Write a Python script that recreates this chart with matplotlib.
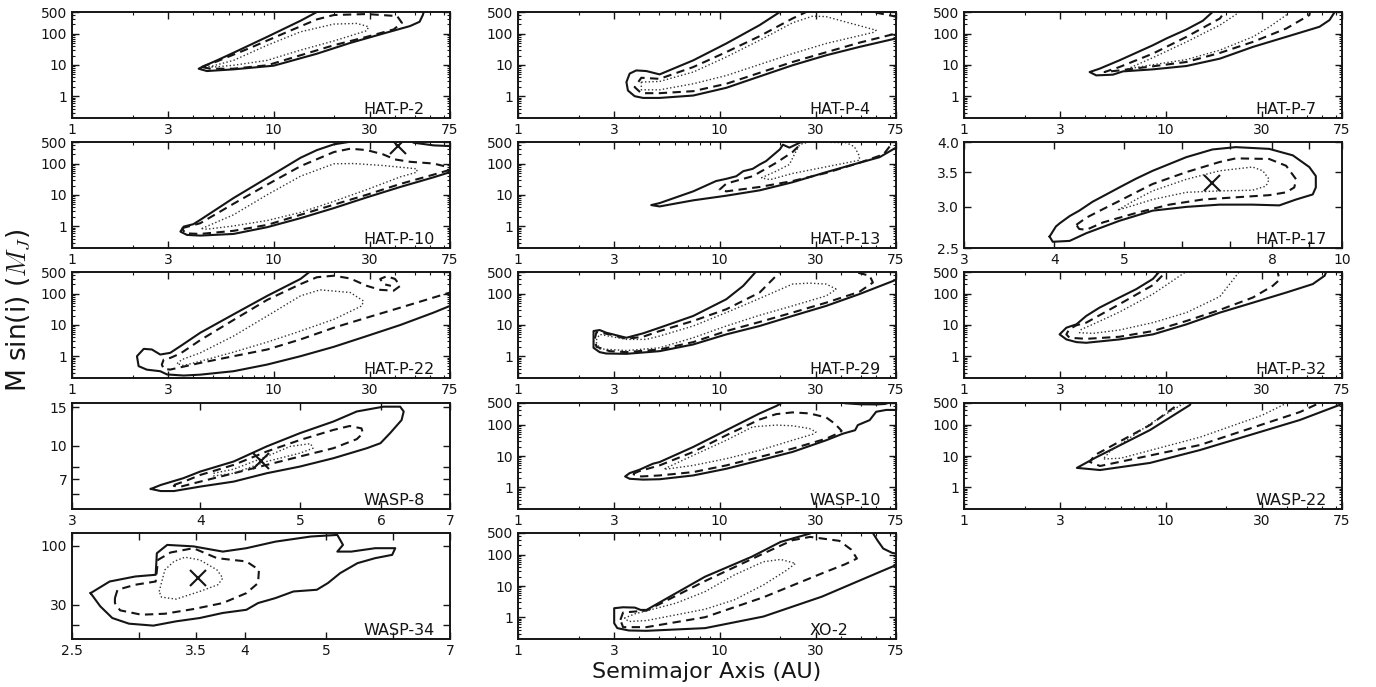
import matplotlib
matplotlib.use('Agg')
import matplotlib.pyplot as plt
from matplotlib.ticker import FixedLocator, FixedFormatter, NullFormatter

plt.rcParams['font.family'] = ['DejaVu Sans']
plt.rcParams['mathtext.fontset'] = 'cm'

# ---------------- data: contour outlines (semimajor axis AU, M sin i MJ) ----------------
HATP2_solid = [(18.4,650),(16.4,500),(13.6,262),(9.3,80),(6.3,24.4),(5.24,14.1),(4.5,9.2),(4.25,7.6),
               (4.67,6.4),(6.33,7.25),(10,9.5),(11.2,11.6),(16.4,23),(24,51),(35,102),(47.5,177),
               (53,243),(55,400),(56,600)]
HATP2_dashed = [(4.4,8.6),(5.24,13.1),(7.66,35.5),(11.2,102),(16.4,290),(19.9,400),(29,430),(41,370),
                (43.3,225),(39.4,138),(29,80),(19.9,43),(13.6,20.5),(9.3,9.8),(6.3,7.6),(4.85,7.6),(4.4,8.6)]
HATP2_dotted = [(4.76,8.6),(6.33,14.1),(9.3,43),(13.6,116),(19.9,205),(25.9,215),(29.6,168),(29,126),
                (19.9,59),(13.6,30),(9.3,14.1),(6.33,9.8),(5.05,8.6),(4.76,8.6)]

HATP4_solid = [(22.2,740),(19.9,500),(15.8,190),(10.8,49),(7.4,14.1),(5.04,5.0),(4.33,6.4),(3.86,6.7),
               (3.58,5.3),(3.45,2.83),(3.51,1.52),(3.79,1.0),(4.17,0.88),(5.04,0.88),(7.4,1.05),
               (10.8,1.86),(15.8,4.3),(23,9.8),(33.8,20.5),(49.4,38),(75,71),(105,130)]
HATP4_dashed = [(31.4,950),(26.9,500),(23,310),(15.8,84),(10.8,26),(7.4,8.6),(5.04,3.6),(4.09,3.9),
                (3.79,1.95),(4.09,1.25),(5.04,1.25),(7.4,1.45),(10.8,2.5),(23,12.5),(49.4,52),(75,102),(98,170)]
HATP4_dashed2 = [(52,800),(57.6,500),(75,355),(100,320)]
HATP4_dotted = [(4.09,2.83),(5.04,2.97),(7.4,5.95),(10.8,18.1),(15.8,62),(23,225),(29,370),(33.8,355),
                (59.8,130),(57.6,110),(33.8,49),(23,23.2),(10.8,4.6),(7.4,2.5),(5.04,1.6),(4.09,1.6),(4.09,2.83)]

HATP7_solid = [(16.5,840),(17.1,500),(15.3,262),(12.7,138),(10.1,71),(8.65,43),(5.9,14.1),(4.7,7.6),
               (4.2,5.95),(4.53,4.65),(5.48,4.9),(6.15,6.25),(8.65,7.25),(12.7,9.3),(18.6,16),(27.1,38),
               (39.7,80),(58,168),(65,275),(69,500),(73,840)]
HATP7_dashed = [(21,840),(19.6,500),(18.6,310),(12.7,80),(8.65,23.2),(5.9,8.6),(4.98,5.95),(5.9,6.7),
                (8.65,9.1),(12.7,12.5),(18.6,24.4),(27.1,55),(39.7,148),(51.7,400),(52.7,840)]
HATP7_dotted = [(24,840),(23.3,500),(18.6,190),(12.7,55),(8.65,17.2),(6.5,7.6),(6.9,8.0),(8.65,10.2),
                (12.7,14.9),(18.6,30),(27.1,80),(32.8,168),(39.7,400),(40,840)]

HATP10_solid = [(25,780),(24,510),(19.9,420),(16.4,275),(13.6,156),(9.3,35.5),(6.33,8),(4.33,1.6),
                (4.0,1.16),(3.58,0.97),(3.45,0.67),(3.72,0.525),(4.33,0.5),(6.33,0.565),(9.3,0.93),
                (13.6,1.81),(19.9,3.8),(29,8.4),(42.5,18.1),(62.2,37),(75,54),(90.8,74)]
HATP10_solid2 = [(47.5,780),(49.4,475),(62.2,390),(75,370),(90.8,355)]
HATP10_dashed = [(3.51,0.86),(4.33,1.25),(6.33,5.25),(9.3,21.5),(13.6,84),(19.9,238),(24,305),(29,275),
                 (35,200),(40,138),(47.5,116),(62.2,102),(72.5,80),(73.7,62),(62.2,45),(42.5,22.6),
                 (29,10.2),(19.9,4.9),(13.6,2.32),(9.3,1.1),(6.33,0.71),(4.33,0.565),(3.65,0.59),(3.51,0.86)]
HATP10_dotted = [(4.4,0.84),(6.33,2.32),(9.3,10.2),(13.6,40),(19.9,100),(25,102),(35,88),(51.4,69),
                 (51.4,54),(42.5,38),(29,14.9),(19.9,6.25),(13.6,2.76),(9.3,1.52),(6.33,1.02),(4.67,0.8),(4.4,0.84)]
HATP10_best = (41.4, 370)

HATP13_solid = [(25.4,780),(25.4,500),(22.2,330),(20.6,410),(19.9,290),(17,122),(15.8,95),(14.6,69),
                (13.1,58),(12.1,40),(10.8,33),(9.6,28),(7.4,13.1),(5.04,5.5),(4.58,4.75),(5.04,4.3),
                (7.4,6.75),(10.8,9.5),(15.8,14.1),(23,25.6),(33.8,54),(49.4,108),(62.2,163),(75,330),(90,600)]
HATP13_dashed = [(27,780),(25.9,500),(23,238),(19.1,108),(14.6,40),(13.1,33),(10.8,23.2),(10,14.9),
                 (10.8,13.1),(15.8,18.1),(23,28),(33.8,51),(49.4,108),(65,200),(70,370),(70,780)]
HATP13_dotted = [(16.1,35.5),(19.1,58),(22.2,95),(23.5,200),(25,420),(27.9,500),(42.5,475),(46.6,355),
                 (49.4,177),(49.4,130),(33.8,80),(23,49),(17.8,31),(16.1,35.5)]

HATP17_solid = [(3.94,2.63),(4.02,2.75),(4.07,2.79),(4.2,2.88),(4.33,2.95),(4.52,3.07),(4.72,3.17),
                (4.92,3.27),(5.19,3.40),(5.47,3.52),(6.09,3.74),(6.62,3.87),(7.13,3.91),(7.93,3.88),
                (8.55,3.77),(9.01,3.58),(9.2,3.44),(9.2,3.27),(9.11,3.17),(8.64,3.10),(8.19,3.02),
                (7.52,3.03),(6.77,3.03),(6.09,3.0),(5.47,2.95),(4.92,2.82),(4.43,2.67),(4.2,2.58),
                (3.98,2.57),(3.94,2.63)]
HATP17_dashed = [(4.29,2.77),(4.43,2.86),(4.67,2.97),(4.92,3.08),(5.19,3.20),(5.47,3.32),(6.09,3.50),
                 (6.77,3.66),(7.13,3.72),(7.93,3.71),(8.37,3.60),(8.64,3.39),(8.59,3.27),(8.37,3.20),
                 (7.93,3.16),(7.13,3.13),(6.42,3.10),(5.77,3.03),(5.19,2.92),(4.67,2.80),(4.43,2.71),
                 (4.33,2.72),(4.29,2.77)]
HATP17_dotted = [(4.90,2.96),(5.19,3.10),(5.47,3.22),(6.09,3.39),(6.77,3.52),(7.52,3.58),(7.77,3.52),
                 (7.93,3.39),(7.85,3.29),(7.52,3.23),(6.77,3.22),(6.09,3.20),(5.47,3.10),(5.03,2.99),(4.90,2.96)]
HATP17_best = (6.6, 3.33)

HATP22_solid = [(16,800),(15.2,525),(13.6,300),(9.3,86),(6.33,22),(4.33,5.66),(3.45,2.1),(3.07,1.28),
                (2.74,1.13),(2.49,1.64),(2.27,1.72),(2.1,1.0),(2.14,0.48),(2.35,0.37),(2.74,0.33),
                (2.96,0.26),(3.58,0.24),(4.33,0.256),(6.33,0.33),(9.3,0.54),(13.6,1.0),(19.9,2.0),
                (29,4.42),(42.5,10),(62.2,25),(75,41),(95,70)]
HATP22_dashed = [(78,116),(75,110),(62.2,76),(42.5,36),(29,17.2),(19.9,8.2),(13.6,3.45),(9.3,1.64),
                 (6.33,1.0),(4.33,0.61),(3.07,0.372),(2.85,0.39),(2.79,0.54),(2.85,0.78),(3.07,0.88),
                 (3.45,1.22),(4.33,3.28),(6.33,14.5),(9.3,64),(13.6,205),(16.4,340),(19.9,380),(24,310),
                 (29,180),(33.8,134),(39.4,126),(42.5,180),(40,300),(36.4,365),(33.8,300),(35,205),(38.2,180)]
HATP22_dotted = [(3.32,0.58),(3.51,0.78),(4.33,1.28),(6.33,4.42),(9.3,19.5),(13.6,86),(17,134),(24,110),
                 (27.9,59),(27.4,41),(19.9,15.2),(13.6,6.4),(9.3,2.83),(6.33,1.35),(4.33,0.69),(3.58,0.5),(3.32,0.58)]

HATP29_solid = [(16,700),(15.2,525),(13.1,180),(10.8,67),(7.4,19.5),(5.04,8.2),(4.17,5.4),(3.45,3.9),
                (3.19,4.42),(2.96,5.0),(2.74,5.66),(2.54,6.9),(2.37,6.4),(2.37,1.86),(2.54,1.35),
                (2.74,1.22),(3.45,1.19),(5.04,1.45),(7.4,2.38),(10.8,5.0),(15.8,9.3),(23,19.5),
                (33.8,41),(49.4,98),(75,280),(85,400)]
HATP29_dashed = [(21,700),(19.9,525),(19.1,380),(15.8,110),(10.8,32),(7.4,13.5),(5.04,6.4),(4.17,4.2),
                 (3.45,3.6),(2.85,5.0),(2.45,5.95),(2.4,3.45),(2.45,2.0),(2.85,1.45),(3.45,1.35),
                 (5.04,1.64),(7.4,2.83),(10.8,6.4),(15.8,12.5),(23,25),(33.8,52),(49.4,116),(57.6,230),
                 (55.5,380),(46.6,510),(44,700)]
HATP29_dotted = [(37.9,141),(33.8,205),(27.9,220),(23,205),(15.8,71),(10.8,25),(7.4,9.3),(5.04,4.42),
                 (4.33,3.45),(3.45,3.45),(2.54,5.0),(2.43,3.05),(2.54,1.72),(3.45,1.52),(5.04,1.86),
                 (7.4,3.9),(10.8,9.3),(15.8,20.5),(23,41),(33.8,86),(37.9,141)]

HATP32_solid = [(9.8,700),(9.34,525),(8.65,300),(7.15,141),(5.9,76),(4.7,36),(4.04,19.5),(3.61,10.5),
                (3.22,8.2),(2.98,5.0),(3.22,3.45),(3.61,2.83),(4.04,2.69),(5.9,3.45),(8.65,5.0),
                (12.7,10.5),(18.6,25),(27.1,52),(39.7,110),(53.7,205),(61.5,380),(62.8,525),(63,700)]
HATP32_dashed = [(10.9,700),(10.1,525),(8.65,190),(5.9,46.4),(4.04,11.9),(3.61,9.8),(3.32,7.25),
                 (3.22,5.0),(3.34,3.9),(4.04,3.6),(5.9,4.2),(8.65,6.4),(12.7,13.5),(18.6,30.6),(27.1,76),
                 (34,180),(36.7,280),(36,490),(35.5,700)]
HATP32_dotted = [(13.2,700),(12.7,525),(8.65,98),(5.9,26),(4.36,10.5),(3.82,7.25),(3.74,5.66),(4.36,5.4),
                 (5.9,6.9),(8.65,11.9),(12.7,25),(18.6,82),(23.3,525),(23.7,700)]

WASP8_solid = [(3.58,6.31),(3.66,6.58),(3.85,7.07),(4.0,7.59),(4.31,8.44),(4.64,9.9),(5.0,11.4),
               (5.39,12.9),(5.68,14.35),(6.03,15.1),(6.26,15.1),(6.31,14.35),(6.28,13.1),(6.12,11.4),
               (5.99,10.25),(5.81,9.72),(5.39,8.74),(5.0,8.0),(4.64,7.45),(4.31,6.82),(4.0,6.47),
               (3.77,6.17),(3.66,6.17),(3.58,6.31)]
WASP8_dashed = [(3.77,6.58),(3.88,6.9),(4.0,7.32),(4.31,8.14),(4.64,9.38),(5.0,10.6),(5.39,11.8),
                (5.59,12.3),(5.74,12.0),(5.76,11.4),(5.68,10.7),(5.39,9.72),(5.0,8.9),(4.64,8.14),
                (4.31,7.45),(4.0,6.82),(3.83,6.47),(3.77,6.51),(3.77,6.58)]
WASP8_dotted = [(4.12,7.45),(4.31,7.78),(4.64,8.9),(4.89,9.9),(5.12,10.2),(5.15,9.72),(5.0,9.22),
                (4.64,8.44),(4.31,7.45),(4.12,7.24),(4.12,7.45)]
WASP8_best = (4.58, 8.45)

WASP10_solid = [(21.5,700),(20.6,525),(19.1,400),(15.8,232),(10.8,67),(7.4,19.5),(5.04,6.4),(4.67,5.66),
                (4.0,3.62),(3.58,2.83),(3.4,2.21),(3.58,1.86),(4.17,1.75),(5.04,1.8),(7.4,2.38),
                (10.8,3.9),(15.8,7.25),(23,13.5),(33.8,32),(40.9,52),(47,67),(48.5,98),(55.5,141),
                (59.8,262),(67.1,300),(75,300),(85,300)]
WASP10_solid2 = [(39,560),(42,490),(50,455),(60,450),(66,465),(70,520)]
WASP10_dashed = [(3.72,2.69),(4.0,3.28),(5.04,5.0),(7.4,13.5),(10.8,46.4),(15.8,148),(19.1,220),(23,250),
                 (27.9,232),(33.8,172),(37.2,110),(40.3,64),(39.6,57),(33.8,36),(23,17.2),(15.8,9.3),
                 (10.8,5.0),(7.4,3.05),(5.04,2.38),(4.09,2.21),(3.79,2.5),(3.72,2.69)]
WASP10_dotted = [(5.33,3.9),(7.4,10.5),(10.8,32),(14.6,86),(19.1,98),(23,93),(27.9,76),(30.1,59),
                 (29,50),(23,32),(15.8,15.2),(10.8,8.2),(7.4,5.0),(5.44,3.8),(5.33,3.9)]

WASP22_solid = [(13.8,800),(13.2,432),(8.37,68),(4.47,8.7),(3.63,4.16),(4.73,3.55),(8.37,6.0),
                (14.8,15.5),(26.2,47),(46.4,143),(75,464),(90,800)]
WASP22_dashed = [(12.2,800),(11.8,500),(8.37,98.6),(4.47,10.8),(4.2,6.5),(4.73,4.78),(14.8,22.5),
                 (46.4,257),(58,500),(62,800)]
WASP22_dotted = [(12.8,800),(12.4,500),(8.6,120),(5.3,14),(4.9,8),(6.0,8.5),(14.8,40),(30,200),(40,500),(42,800)]

WASP34_solid = [(2.63,38.2),(2.77,48.4),(2.97,53.6),(3.14,55.5),(3.15,86.1),(3.24,102),(3.48,99),
                (3.77,89),(4.02,95.4),(4.35,109),(4.79,121),(5.15,125),(5.23,102),(5.15,89),(5.35,89),
                (5.71,95.4),(6.03,95.4),(5.98,83.3),(5.71,77.9),(5.44,70.3),(5.19,57.4),(5.02,46.9),
                (4.87,40.9),(4.57,39.5),(4.35,34.5),(4.15,31.2),(4.02,27.2),(3.77,25.5),(3.54,23),
                (3.32,21.5),(3.12,19.7),(2.92,20.5),(2.79,23),(2.70,29.2),(2.63,38.2)]
WASP34_dashed = [(2.81,34.5),(2.83,40.9),(2.97,45.3),(3.14,48.4),(3.16,75.2),(3.27,87.4),(3.48,95.4),
                 (3.71,77.9),(4.02,72.8),(4.16,61.4),(4.15,46.9),(4.02,38.2),(3.77,31.2),(3.48,27.6),
                 (3.22,25.1),(3.02,24.6),(2.85,26.9),(2.81,31.2),(2.81,34.5)]
WASP34_dotted = [(3.17,39.5),(3.22,61.4),(3.30,72.8),(3.40,79.4),(3.54,75.2),(3.71,61.4),(3.77,51.9),
                 (3.72,45.3),(3.54,39.5),(3.32,33.8),(3.19,35.2),(3.17,39.5)]
WASP34_best = (3.52, 52)

XO2_solid = [(30,650),(28.1,480),(20.1,260),(14.4,86),(8.47,19.9),(5.3,3.57),(4.34,1.71),(4.06,1.71),
             (3.8,2.03),(3.32,2.08),(3.0,1.94),(3.0,0.64),(3.11,0.446),(3.55,0.375),(4.34,0.366),
             (8.47,0.446),(16.5,1.05),(32.2,4.57),(62.7,28.7),(75,46.8),(90,75)]
XO2_solid2 = [(56,650),(57.8,480),(60.6,294),(64.8,159),(71.6,116),(75,110),(81,105)]
XO2_dashed = [(3.22,0.82),(3.32,1.41),(4.34,1.63),(6.06,4.8),(8.47,14.4),(16.5,110),(23,294),(28.1,375),
              (39.3,280),(44.9,148),(48,76),(42,50),(32.2,25.4),(16.5,4.35),(8.47,1.0),(4.34,0.48),
              (3.32,0.48),(3.22,0.82)]
XO2_dotted = [(3.37,0.93),(3.8,1.28),(6.06,2.8),(8.47,6.6),(11.8,22.4),(16.5,60),(20.1,71),(23.8,53),
              (21.5,32),(16.5,10.8),(11.8,3.57),(8.47,1.8),(4.34,0.78),(3.55,0.73),(3.37,0.93)]

panels = [
    dict(name='HAT-P-2', rc=(0, 0), kind='std', solid=[HATP2_solid], dashed=[HATP2_dashed], dotted=[HATP2_dotted]),
    dict(name='HAT-P-4', rc=(0, 1), kind='std', solid=[HATP4_solid], dashed=[HATP4_dashed, HATP4_dashed2], dotted=[HATP4_dotted]),
    dict(name='HAT-P-7', rc=(0, 2), kind='std', solid=[HATP7_solid], dashed=[HATP7_dashed], dotted=[HATP7_dotted]),
    dict(name='HAT-P-10', rc=(1, 0), kind='std', solid=[HATP10_solid, HATP10_solid2], dashed=[HATP10_dashed], dotted=[HATP10_dotted], best=HATP10_best),
    dict(name='HAT-P-13', rc=(1, 1), kind='std', solid=[HATP13_solid], dashed=[HATP13_dashed], dotted=[HATP13_dotted]),
    dict(name='HAT-P-17', rc=(1, 2), kind='hatp17', solid=[HATP17_solid], dashed=[HATP17_dashed], dotted=[HATP17_dotted], best=HATP17_best),
    dict(name='HAT-P-22', rc=(2, 0), kind='std', solid=[HATP22_solid], dashed=[HATP22_dashed], dotted=[HATP22_dotted]),
    dict(name='HAT-P-29', rc=(2, 1), kind='std', solid=[HATP29_solid], dashed=[HATP29_dashed], dotted=[HATP29_dotted]),
    dict(name='HAT-P-32', rc=(2, 2), kind='std', solid=[HATP32_solid], dashed=[HATP32_dashed], dotted=[HATP32_dotted]),
    dict(name='WASP-8', rc=(3, 0), kind='wasp8', solid=[WASP8_solid], dashed=[WASP8_dashed], dotted=[WASP8_dotted], best=WASP8_best),
    dict(name='WASP-10', rc=(3, 1), kind='std', solid=[WASP10_solid, WASP10_solid2], dashed=[WASP10_dashed], dotted=[WASP10_dotted]),
    dict(name='WASP-22', rc=(3, 2), kind='std', solid=[WASP22_solid], dashed=[WASP22_dashed], dotted=[WASP22_dotted]),
    dict(name='WASP-34', rc=(4, 0), kind='wasp34', solid=[WASP34_solid], dashed=[WASP34_dashed], dotted=[WASP34_dotted], best=WASP34_best),
    dict(name='XO-2', rc=(4, 1), kind='std', solid=[XO2_solid, XO2_solid2], dashed=[XO2_dashed], dotted=[XO2_dotted]),
]

# axis styles: (xlim, xticks, xlabels, xminor, ylim, yticks, ylabels, yminor)
STD_X = [1, 3, 10, 30, 75]
STD_XMINOR = [2, 4, 5, 6, 7, 8, 9, 20, 40, 50, 60, 70]
STD_Y = [1, 10, 100, 500]
STD_YMINOR = [0.3, 0.4, 0.5, 0.6, 0.7, 0.8, 0.9, 2, 3, 4, 5, 6, 7, 8, 9, 20, 30, 40, 50, 60, 70, 80, 90, 200, 300, 400]
AXSTYLE = {
    'std': ((1, 75), STD_X, ['1', '3', '10', '30', '75'], STD_XMINOR,
            (0.2, 500), STD_Y, ['1', '10', '100', '500'], STD_YMINOR),
    'hatp17': ((3, 10), [3, 4, 5, 6, 7, 8, 9, 10], ['3', '4', '5', '', '', '8', '', '10'], [],
               (2.5, 4.0), [2.5, 3.0, 3.5, 4.0], ['2.5', '3.0', '3.5', '4.0'], []),
    'wasp8': ((3, 7), [3, 4, 5, 6, 7], ['3', '4', '5', '6', '7'], [],
              (5.1, 15.7), [6, 7, 8, 10, 15], ['', '7', '', '10', '15'], []),
    'wasp34': ((2.5, 7), [2.5, 3, 3.5, 4, 5, 6, 7], ['2.5', '', '3.5', '4', '5', '', '7'], [],
               (15, 130), [20, 30, 100], ['', '30', '100'], []),
}

# ---------------- figure ----------------
W, H = 1376, 687
fig = plt.figure(figsize=(W / 100, H / 100), dpi=100)
COL_LEFT = [72, 518, 964]
ROW_TOP = [12, 142, 272, 403, 533]
AX_W, AX_H = 378, 106
INK = '#151515'

for p in panels:
    r, c = p['rc']
    ax = fig.add_axes([COL_LEFT[c] / W, 1 - (ROW_TOP[r] + AX_H) / H, AX_W / W, AX_H / H])
    ax.set_xscale('log')
    ax.set_yscale('log')
    xl, xt, xlab, xmin, yl, yt, ylab, ymin = AXSTYLE[p['kind']]
    for seg in p['solid']:
        ax.plot([q[0] for q in seg], [q[1] for q in seg], '-', color=INK, lw=1.5)
    for seg in p['dashed']:
        ax.plot([q[0] for q in seg], [q[1] for q in seg], '--', color=INK, lw=1.5, dashes=(4.0, 2.6))
    for seg in p['dotted']:
        ax.plot([q[0] for q in seg], [q[1] for q in seg], ':', color='#333333', lw=1.0)
    if p.get('best'):
        ax.plot([p['best'][0]], [p['best'][1]], 'x', color=INK, ms=12, mew=1.5)
    ax.set_xlim(*xl)
    ax.set_ylim(*yl)
    ax.xaxis.set_major_locator(FixedLocator(xt))
    ax.xaxis.set_major_formatter(FixedFormatter(xlab))
    ax.xaxis.set_minor_locator(FixedLocator(xmin))
    ax.xaxis.set_minor_formatter(NullFormatter())
    ax.yaxis.set_major_locator(FixedLocator(yt))
    ax.yaxis.set_major_formatter(FixedFormatter(ylab))
    ax.yaxis.set_minor_locator(FixedLocator(ymin))
    ax.yaxis.set_minor_formatter(NullFormatter())
    ax.tick_params(which='both', direction='in', top=True, right=True, colors=INK, labelsize=10)
    ax.tick_params(which='major', length=5, width=1.0)
    ax.tick_params(which='minor', length=2.5, width=0.8)
    for s in ax.spines.values():
        s.set_linewidth(1.4)
        s.set_color(INK)
    ax.text(0.77, 0.035, p['name'], transform=ax.transAxes, ha='left', va='baseline',
            fontsize=11.5, color=INK)

fig.text(707 / W, 1 - 672 / H, 'Semimajor Axis (AU)', ha='center', va='center', fontsize=16, color=INK)
fig.text(18 / W, 1 - 310 / H, r'M sin(i) ($M_J$)', ha='center', va='center', rotation=90,
         fontsize=19, color=INK)

fig.savefig('out.png', dpi=100)
